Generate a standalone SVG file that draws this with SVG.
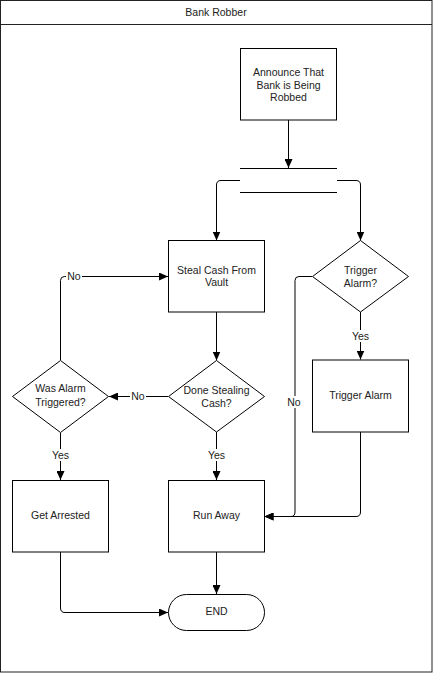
<svg xmlns="http://www.w3.org/2000/svg" width="433" height="673" viewBox="0 0 433 673">
<defs>
<marker id="ah" markerWidth="9" markerHeight="8" refX="9" refY="4" orient="auto" markerUnits="userSpaceOnUse">
<path d="M0,0 L9,4 L0,8 Z" fill="#000"/>
</marker>
<style>
.n{fill:#fff;stroke:#000;stroke-width:1}
.t{font-family:"Liberation Sans",Arial,sans-serif;font-size:10.5px;fill:#222;text-anchor:middle}
.c{fill:none;stroke:#000;stroke-width:1}
.a{marker-end:url(#ah)}
.lb{fill:#fff}
</style>
</defs>
<rect x="0" y="0" width="433" height="673" fill="#fff"/>
<g id="frame">
<rect x="0.5" y="0.5" width="431.5" height="671.5" fill="none" stroke="#222" stroke-width="1"/>
<line x1="0.5" y1="24.5" x2="432" y2="24.5" stroke="#222" stroke-width="1"/>
<text class="t" x="216" y="16">Bank Robber</text>
</g>
<g id="connectors">
<line class="c a" x1="288.5" y1="120" x2="288.5" y2="168"/>
<path class="c a" d="M240,180.5 H221 Q216.5,180.5 216.5,185 V240.5"/>
<path class="c a" d="M337,180.5 H356 Q360.5,180.5 360.5,185 V240.5"/>
<line class="c a" x1="216.5" y1="312" x2="216.5" y2="360.5"/>
<line class="c a" x1="168" y1="396.5" x2="109" y2="396.5"/>
<path class="c a" d="M60.5,360 V280.5 Q60.5,276.5 64.5,276.5 H168"/>
<line class="c a" x1="60.5" y1="433" x2="60.5" y2="480"/>
<line class="c a" x1="216.5" y1="432" x2="216.5" y2="480"/>
<line class="c a" x1="360.5" y1="312" x2="360.5" y2="359.5"/>
<path class="c a" d="M312,276.5 H299 Q295,276.5 295,280.5 V512 Q295,516.5 291,516.5 H264.5"/>
<path class="c a" d="M360.5,432 V512 Q360.5,516.5 356,516.5 H264.5"/>
<line class="c a" x1="216.5" y1="552" x2="216.5" y2="594"/>
<path class="c a" d="M60.5,552 V608 Q60.5,612.5 65,612.5 H168"/>
<rect class="lb" x="66" y="270" width="16" height="12"/>
<text class="t" x="74" y="280">No</text>
<rect class="lb" x="130" y="390" width="16" height="12"/>
<text class="t" x="138" y="400">No</text>
<rect class="lb" x="286" y="396" width="16" height="12"/>
<text class="t" x="294" y="406">No</text>
<rect class="lb" x="350" y="330" width="21" height="12"/>
<text class="t" x="360.5" y="340">Yes</text>
<rect class="lb" x="50" y="449" width="21" height="12"/>
<text class="t" x="60.5" y="459">Yes</text>
<rect class="lb" x="206" y="449" width="21" height="12"/>
<text class="t" x="216.5" y="459">Yes</text>
</g>
<g id="announce">
<rect class="n" x="240.5" y="48.5" width="96" height="71.5"/>
<text class="t" x="288.5" y="76">Announce That</text>
<text class="t" x="288.5" y="89">Bank is Being</text>
<text class="t" x="288.5" y="101">Robbed</text>
</g>
<g id="fork">
<line class="c" x1="240" y1="168.5" x2="337" y2="168.5"/>
<line class="c" x1="240" y1="192.5" x2="337" y2="192.5"/>
</g>
<g id="steal">
<rect class="n" x="168.5" y="240.5" width="96" height="71.5"/>
<text class="t" x="216.5" y="274">Steal Cash From</text>
<text class="t" x="216.5" y="286">Vault</text>
</g>
<g id="triggerQ">
<polygon class="n" points="360.5,240.5 408.5,276.5 360.5,312 312.5,276.5"/>
<text class="t" x="360.5" y="274">Trigger</text>
<text class="t" x="360.5" y="287">Alarm?</text>
</g>
<g id="doneQ">
<polygon class="n" points="216.5,360.5 264.5,396.5 216.5,432 168.5,396.5"/>
<text class="t" x="216.5" y="394">Done Stealing</text>
<text class="t" x="216.5" y="407">Cash?</text>
</g>
<g id="wasQ">
<polygon class="n" points="60.5,360.5 108.5,396.5 60.5,432.5 12.5,396.5"/>
<text class="t" x="60.5" y="392">Was Alarm</text>
<text class="t" x="60.5" y="406">Triggered?</text>
</g>
<g id="triggerAlarm">
<rect class="n" x="312.5" y="360" width="96" height="72"/>
<text class="t" x="360.5" y="399">Trigger Alarm</text>
</g>
<g id="getArrested">
<rect class="n" x="12.5" y="480.5" width="96" height="71.5"/>
<text class="t" x="60.5" y="519">Get Arrested</text>
</g>
<g id="runAway">
<rect class="n" x="168.5" y="480.5" width="96" height="71.5"/>
<text class="t" x="216.5" y="519">Run Away</text>
</g>
<g id="end">
<rect class="n" x="168.5" y="594.5" width="96" height="36" rx="18" ry="18"/>
<text class="t" x="216.5" y="615">END</text>
</g>
</svg>
